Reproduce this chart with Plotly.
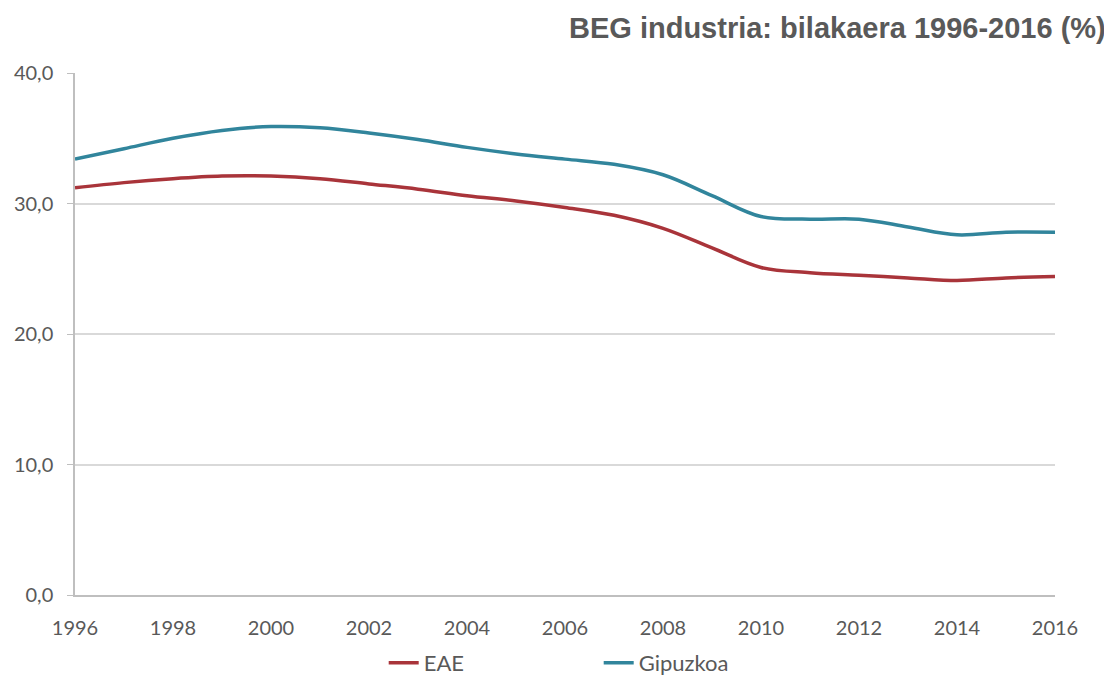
import plotly.graph_objects as go

years = list(range(1996, 2017))
eae = [31.2, 31.6, 31.9, 32.1, 32.1, 31.9, 31.5, 31.1, 30.6, 30.2, 29.7, 29.1, 28.1, 26.6, 25.1, 24.7, 24.5, 24.3, 24.1, 24.3, 24.4]
gipuzkoa = [33.4, 34.2, 35.0, 35.6, 35.9, 35.8, 35.4, 34.9, 34.3, 33.8, 33.4, 33.0, 32.2, 30.6, 29.0, 28.8, 28.8, 28.2, 27.6, 27.8, 27.8]

title = "BEG industria: bilakaera 1996-2016 (%)"
font_txt = "Lato, 'Open Sans', sans-serif"
grey = "#595959"

fig = go.Figure()

fig.add_trace(go.Scatter(
    x=years, y=eae, name="EAE", mode="lines",
    line=dict(color="#A9343A", width=3.5, shape="spline", smoothing=1.0),
))
fig.add_trace(go.Scatter(
    x=years, y=gipuzkoa, name="Gipuzkoa", mode="lines",
    line=dict(color="#31859C", width=3.5, shape="spline", smoothing=1.0),
))

# title as an annotation so it can sit flush to the right edge
fig.add_annotation(
    text="<b>" + title + "</b>",
    xref="paper", yref="paper", x=1.054, xanchor="right",
    y=1.086, yanchor="middle", showarrow=False,
    font=dict(family="Liberation Sans, Arial, sans-serif", size=29, color=grey),
)

# page body has an 8px margin, so margins are shifted accordingly
fig.update_layout(
    width=1112, height=678,
    paper_bgcolor="white", plot_bgcolor="white",
    separators=",.",
    margin=dict(l=67, r=65, t=65, b=91, autoexpand=False),
    showlegend=True,
    legend=dict(
        orientation="h", x=0.315, xanchor="left", y=-0.13, yanchor="middle",
        font=dict(family=font_txt, size=22, color=grey),
        entrywidth=170, entrywidthmode="pixels",
    ),
    font=dict(family=font_txt, size=20, color=grey),
)

fig.update_xaxes(
    range=[1996, 2016], tickmode="linear", tick0=1996, dtick=2,
    showgrid=False, showline=True, linecolor="#BFBFBF", linewidth=1.5,
    ticks="", zeroline=False, ticklabelstandoff=14,
    tickfont=dict(family=font_txt, size=20, color=grey),
)
fig.update_yaxes(
    range=[0, 40], tickmode="linear", tick0=0, dtick=10, tickformat=".1f",
    showgrid=True, gridcolor="#D9D9D9", gridwidth=1.5,
    showline=True, linecolor="#BFBFBF", linewidth=1.5,
    ticks="outside", ticklen=6, tickcolor="#BFBFBF",
    zeroline=False, ticklabelstandoff=10,
    tickfont=dict(family=font_txt, size=20, color=grey),
)

fig.write_html("out.html")
